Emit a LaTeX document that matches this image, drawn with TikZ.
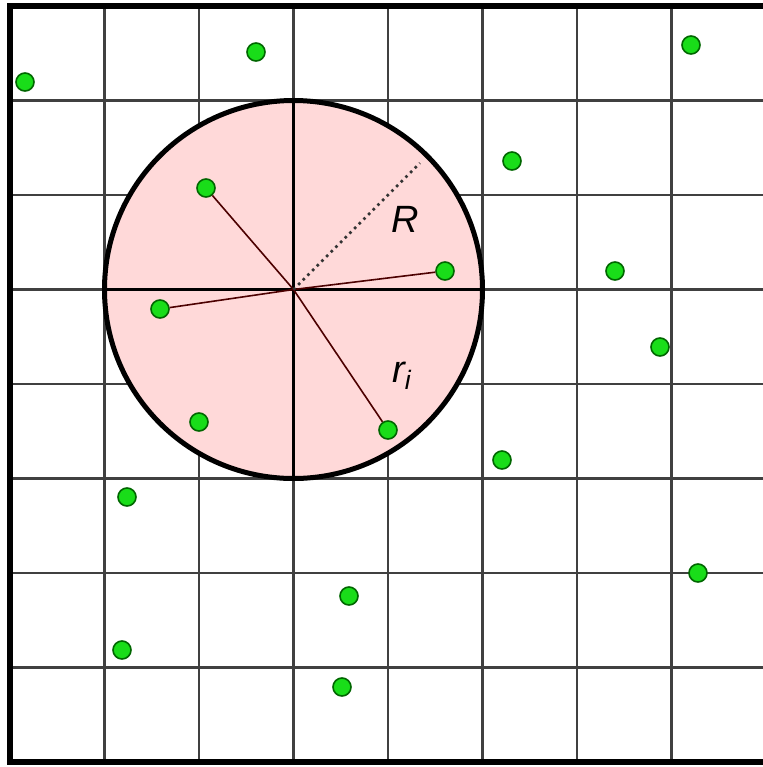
\documentclass[tikz,border=0pt]{standalone}
\usepackage{fontspec}
\setmainfont{Liberation Sans}
\begin{document}
\begin{tikzpicture}[x=0.5pt,y=-0.5pt,
  gridline/.style={draw=black!75,line width=1.1pt},
  dot/.style={circle,fill=green!85!black!90,draw=green!40!black,line width=0.8pt,minimum size=9pt,inner sep=0pt},
  spoke/.style={draw=black!70!red,line width=0.8pt},
  lbl/.style={font=\fontsize{19}{21}\selectfont\itshape,inner sep=0pt}]
\useasboundingbox (0,0) rectangle (763,767);
\begin{scope}
\clip (0,0) rectangle (763,767);
% grid
\foreach \i in {1,...,7} {
  \draw[gridline] ({10+94.5*\i},6) -- ({10+94.5*\i},762);
  \draw[gridline] (10,{6+94.5*\i}) -- (766,{6+94.5*\i});
}
% border
\draw[line width=2.8pt] (10,6) rectangle (766,762);
\end{scope}
% circle
\coordinate (c) at (293.5,289.5);
\fill[red!15] (c) circle[radius=189];
\draw[line width=1.1pt] (104.5,289.5) -- (482.5,289.5);
\draw[line width=1.1pt] (293.5,100.5) -- (293.5,478.5);
\draw[line width=2.5pt] (c) circle[radius=189];
% dots
\node[dot] (d1) at (25,82) {};
\node[dot] (d2) at (256,52) {};
\node[dot] (d3) at (691,45) {};
\node[dot] (d4) at (512,161) {};
\node[dot] (d5) at (206,188) {};
\node[dot] (d6) at (445,271) {};
\node[dot] (d7) at (615,271) {};
\node[dot] (d8) at (160,309) {};
\node[dot] (d9) at (660,347) {};
\node[dot] (d10) at (199,422) {};
\node[dot] (d11) at (388,430) {};
\node[dot] (d12) at (502,460) {};
\node[dot] (d13) at (127,497) {};
\node[dot] (d14) at (698,573) {};
\node[dot] (d15) at (349,596) {};
\node[dot] (d16) at (122,650) {};
\node[dot] (d17) at (342,687) {};
% spokes
\draw[spoke] (c) -- (d5);
\draw[spoke] (c) -- (d6);
\draw[spoke] (c) -- (d8);
\draw[spoke] (c) -- (d11);
\coordinate (rend) at (420,163);
\draw[dotted,line width=1.3pt,black!80] (c) -- (rend);
\node[lbl] (R) at (405,219) {R};
\node[lbl] (ri) at (402,376) {r$_{\mathit{i}}$};
\end{tikzpicture}
\end{document}
